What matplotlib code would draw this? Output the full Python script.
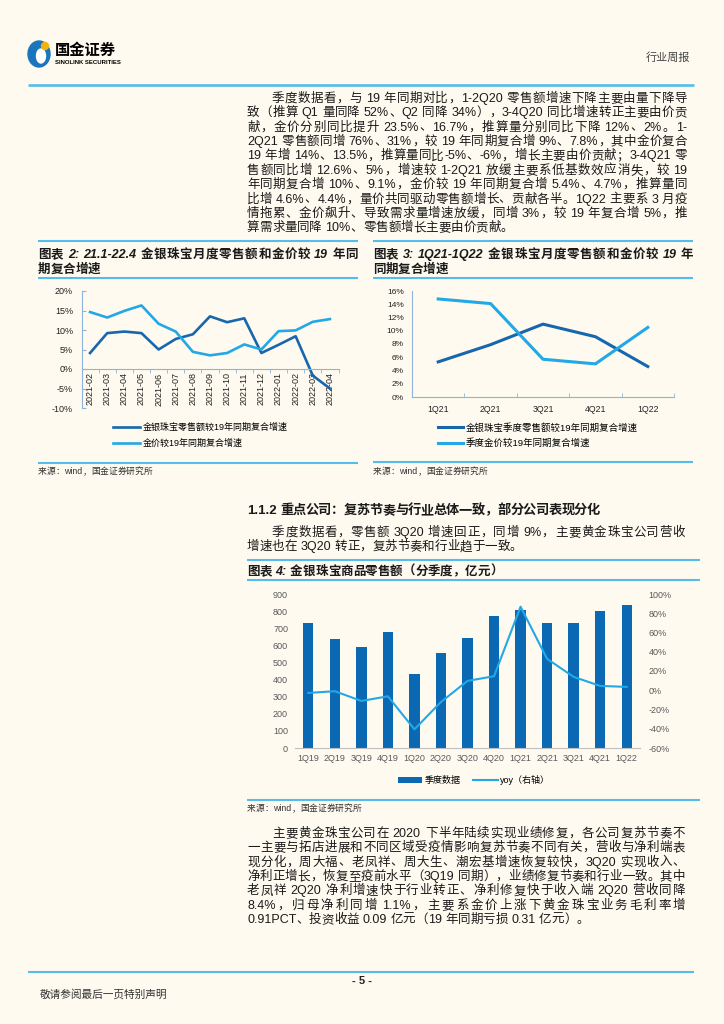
import re
import numpy as np
import matplotlib
matplotlib.use('Agg')
import matplotlib.pyplot as plt
from matplotlib.patches import Ellipse, Circle

plt.rcParams['font.family'] = ['Liberation Sans', 'Noto Sans CJK SC']
plt.rcParams['axes.unicode_minus'] = False

# ==== данные ==== #
months = ['2021-02', '2021-03', '2021-04', '2021-05', '2021-06', '2021-07', '2021-08',
          '2021-09', '2021-10', '2021-11', '2021-12', '2022-01', '2022-02', '2022-03', '2022-04']
retail_m = [4.1, 9.2, 9.6, 9.2, 5.0, 7.7, 8.9, 13.5, 12.0, 13.0, 4.1, 6.2, 8.4, -1.7, -5.0]
gold_m = [14.6, 13.2, 14.9, 16.3, 11.6, 9.6, 4.4, 3.5, 4.1, 6.3, 5.0, 9.7, 9.9, 12.1, 12.8]

quarters = ['1Q21', '2Q21', '3Q21', '4Q21', '1Q22']
retail_q = [5.3, 7.9, 11.0, 9.1, 4.6]
gold_q = [14.8, 14.1, 5.7, 5.0, 10.5]

q_labels = ['1Q19', '2Q19', '3Q19', '4Q19', '1Q20', '2Q20', '3Q20',
            '4Q20', '1Q21', '2Q21', '3Q21', '4Q21', '1Q22']
sales = [732, 635, 588, 676, 434, 557, 643, 771, 807, 732, 729, 803, 836]
yoy = [-2.8, -1.0, -11.1, -6.3, -40.6, -12.2, 9.7, 14.6, 86.8, 32.6, 13.9, 4.5, 3.5]

para1 = [
    '季度数据看，与 19 年同期对比，1-2Q20 零售额增速下降主要由量下降导',
    '致（推算 Q1 量同降 52%、Q2 同降 34%），3-4Q20 同比增速转正主要由价贡',
    '献，金价分别同比提升 23.5%、16.7%，推算量分别同比下降 12%、2%。1-',
    '2Q21 零售额同增 76%、31%，较 19 年同期复合增 9%、7.8%，其中金价复合',
    '19 年增 14%、13.5%，推算量同比-5%、-6%，增长主要由价贡献；3-4Q21 零',
    '售额同比增 12.6%、5%，增速较 1-2Q21 放缓主要系低基数效应消失，较 19',
    '年同期复合增 10%、9.1%，金价较 19 年同期复合增 5.4%、4.7%，推算量同',
    '比增 4.6%、4.4%，量价共同驱动零售额增长、贡献各半。1Q22 主要系 3 月疫',
    '情拖累、金价飙升、导致需求量增速放缓，同增 3%，较 19 年复合增 5%，推',
    '算需求量同降 10%、零售额增长主要由价贡献。',
]
para2 = [
    '季度数据看，零售额 3Q20 增速回正，同增 9%，主要黄金珠宝公司营收',
    '增速也在 3Q20 转正，复苏节奏和行业趋于一致。',
]
para3 = [
    '主要黄金珠宝公司在 2020 下半年陆续实现业绩修复，各公司复苏节奏不',
    '一主要与拓店进展和不同区域受疫情影响复苏节奏不同有关，营收与净利端表',
    '现分化，周大福、老凤祥、周大生、潮宏基增速恢复较快，3Q20 实现收入、',
    '净利正增长，恢复至疫前水平（3Q19 同期），业绩修复节奏和行业一致。其中',
    '老凤祥 2Q20 净利增速快于行业转正、净利修复快于收入端 2Q20 营收同降',
    '8.4%，归母净利同增 1.1%，主要系金价上涨下黄金珠宝业务毛利率增',
    '0.91PCT、投资收益 0.09 亿元（19 年同期亏损 0.31 亿元）。',
]

BG = '#FEFAEF'
RULE = '#55BDEB'
DARK = '#1767AE'
LIGHT = '#22A8E6'
BAR = '#0B68B3'
AXC = '#8FB3D9'
TXT = '#1a1a1a'
W, H = 724, 1024
PX = 100 / 72

fig = plt.figure(figsize=(7.24, 10.24), dpi=100, facecolor=BG)
pg = fig.add_axes([0, 0, 1, 1])
pg.set_xlim(0, W)
pg.set_ylim(H, 0)
pg.axis('off')
R = fig.canvas.get_renderer()


# строка текста с выравниванием по ширине
def put(s, x0, y, size, x1=None, **kw):
    kw.setdefault('color', TXT)
    em = size * PX
    base = y + 0.38 * em
    parts = re.findall(r'[\x21-\x7e]+| +|[^\x21-\x7e ]', s)
    toks = []
    gap = 0
    for p in parts:
        if p.startswith(' '):
            gap += 0.28 * em * len(p)
            continue
        t = pg.text(x0, base, p, fontsize=size, va='baseline', ha='left', **kw)
        w = t.get_window_extent(R).width if p.isascii() else em * len(p)
        toks.append((t, w, gap))
        gap = 0
    total = sum(w + g for _, w, g in toks)
    extra = 0
    if x1 is not None and len(toks) > 1:
        extra = (x1 - x0 - total) / (len(toks) - 1)
    x = x0
    for i, (t, w, g) in enumerate(toks):
        if i > 0:
            x += g + extra
        t.set_x(x)
        x += w


def rule(x0, x1, y, lw=1.5):
    pg.plot([x0, x1], [y, y], color=RULE, lw=lw, solid_capstyle='butt')


def paragraph(lines, y0, step, first_x=272, x0=247, x1=687, size=9):
    for i, s in enumerate(lines):
        last = i == len(lines) - 1
        put(s, first_x if i == 0 else x0, y0 + i * step, size, None if last else x1)


# ==== шапка ==== #
pg.add_patch(Ellipse((39, 54), 22, 26, color='#1B75BC'))
pg.add_patch(Ellipse((41, 56), 9, 14, color='white'))
pg.add_patch(Circle((45, 46), 3.5, color='#F3B30A'))
pg.text(55, 51, '国金证券', fontsize=11, fontweight='bold', va='center', color='black')
pg.text(55, 62.5, 'SINOLINK SECURITIES', fontsize=4.3, fontweight='bold', va='center', color='black')
pg.text(690, 58, '行业周报', fontsize=8, ha='right', va='center', color='#444444')
rule(28, 694, 85, lw=1.9)

paragraph(para1, 97, 14.4)

# ==== заголовки рисунков 2 и 3 ==== #
rule(38, 358, 241)
put('图表 2: 21.1-22.4 金银珠宝月度零售额和金价较 19 年同', 38, 253, 9, 358,
    fontweight='bold', fontstyle='italic')
put('期复合增速', 38, 268, 9, fontweight='bold', fontstyle='italic')
rule(38, 358, 278)

rule(373, 693, 241)
put('图表 3: 1Q21-1Q22 金银珠宝月度零售额和金价较 19 年', 373, 253, 9, 693,
    fontweight='bold', fontstyle='italic')
put('同期复合增速', 373, 268, 9, fontweight='bold', fontstyle='italic')
rule(373, 693, 278)

# ==== рисунок 2 ==== #
ax2 = fig.add_axes([81.5 / W, 1 - 408 / H, 257 / W, 117 / H])
ax2.set_facecolor('none')
xm = np.arange(len(months))
ax2.plot(xm, retail_m, color=DARK, lw=1.9, label='金银珠宝零售额较19年同期复合增速')
ax2.plot(xm, gold_m, color=LIGHT, lw=1.9, label='金价较19年同期复合增速')
ax2.set_xlim(-0.5, len(months) - 0.5)
ax2.set_ylim(-10, 20)
ax2.set_yticks(range(-10, 21, 5))
ax2.set_yticklabels([f'{v}%' for v in range(-10, 21, 5)])
ax2.spines['bottom'].set_position(('data', 0))
for s in ['top', 'right']:
    ax2.spines[s].set_visible(False)
for s in ['left', 'bottom']:
    ax2.spines[s].set_color(AXC)
ax2.set_xticks(xm)
ax2.set_xticklabels(months, rotation=90)
ax2.set_xticks(np.arange(-0.5, len(months)), minor=True)
ax2.tick_params(axis='x', which='major', length=0, pad=2.5, labelsize=6.5, labelcolor='#222')
ax2.tick_params(axis='x', which='minor', length=3, color=AXC, direction='out')
ax2.tick_params(axis='y', length=3, direction='in', color=AXC, pad=6, labelsize=6.5, labelcolor='#222')
ax2.legend(loc='upper left', bbox_to_anchor=(113 / W, 1 - 423 / H), bbox_transform=fig.transFigure,
           frameon=False, fontsize=6.5, handlelength=3.0, handletextpad=0.25,
           labelspacing=0.75, borderpad=0, borderaxespad=0)
rule(38, 358, 463)
put('来源：wind，国金证券研究所', 38, 471, 6.3, color='#333333')

# ==== рисунок 3 ==== #
ax3 = fig.add_axes([412 / W, 1 - 397 / H, 262 / W, 106 / H])
ax3.set_facecolor('none')
xq3 = np.arange(len(quarters))
ax3.plot(xq3, retail_q, color=DARK, lw=2.2, label='金银珠宝季度零售额较19年同期复合增速')
ax3.plot(xq3, gold_q, color=LIGHT, lw=2.2, label='季度金价较19年同期复合增速')
ax3.set_xlim(-0.5, len(quarters) - 0.5)
ax3.set_ylim(0, 16)
ax3.set_yticks(range(0, 17, 2))
ax3.set_yticklabels([f'{v}%' for v in range(0, 17, 2)])
for s in ['top', 'right']:
    ax3.spines[s].set_visible(False)
for s in ['left', 'bottom']:
    ax3.spines[s].set_color(AXC)
ax3.set_xticks(xq3)
ax3.set_xticklabels(quarters)
ax3.set_xticks(np.arange(-0.5, len(quarters)), minor=True)
ax3.tick_params(axis='x', which='major', length=0, pad=6, labelsize=6.3, labelcolor='#222')
ax3.tick_params(axis='x', which='minor', length=3, color=AXC, direction='in')
ax3.tick_params(axis='y', length=0, pad=6, labelsize=6.0, labelcolor='#222')
ax3.legend(loc='upper left', bbox_to_anchor=(438 / W, 1 - 423 / H), bbox_transform=fig.transFigure,
           frameon=False, fontsize=6.8, handlelength=2.7, handletextpad=0.25,
           labelspacing=0.6, borderpad=0, borderaxespad=0)
rule(373, 693, 462)
put('来源：wind，国金证券研究所', 373, 471, 6.3, color='#333333')

# ==== раздел 1.1.2 ==== #
put('1.1.2 重点公司：复苏节奏与行业总体一致，部分公司表现分化', 247, 509, 9.5, 600, fontweight='bold')
paragraph(para2, 531, 14.4, x1=685)

rule(247, 700, 560)
put('图表 4: 金银珠宝商品零售额（分季度，亿元）', 247, 570, 9, fontweight='bold', fontstyle='italic')
rule(247, 700, 580)

# ==== рисунок 4 ==== #
ax4 = fig.add_axes([295 / W, 1 - 748 / H, 345 / W, 154 / H])
ax4.set_facecolor('none')
xq = np.arange(len(q_labels))
bars = ax4.bar(xq, sales, width=0.39, color=BAR, label='季度数据')
ax4.set_xlim(-0.5, len(q_labels) - 0.5)
ax4.set_ylim(0, 900)
ax4.set_yticks(range(0, 901, 100))
ax4.set_xticks(xq)
ax4.set_xticklabels(q_labels)
for s in ['top', 'right', 'left']:
    ax4.spines[s].set_visible(False)
ax4.spines['bottom'].set_color('#BFBFBF')
ax4.tick_params(axis='x', length=0, pad=4.5, labelsize=6.5, labelcolor='#595959')
ax4.tick_params(axis='y', length=0, pad=5, labelsize=6.5, labelcolor='#595959')

axr = ax4.twinx()
ln, = axr.plot(xq, yoy, color=LIGHT, lw=1.5, label='yoy（右轴）')
axr.set_ylim(-60, 100)
axr.set_yticks(range(-60, 101, 20))
axr.set_yticklabels([f'{v}%' for v in range(-60, 101, 20)])
for s in ['top', 'right', 'left', 'bottom']:
    axr.spines[s].set_visible(False)
axr.tick_params(axis='y', length=0, pad=6, labelsize=6.5, labelcolor='#595959')

ax4.legend([bars, ln], ['季度数据', 'yoy（右轴）'], loc='center left',
           bbox_to_anchor=(398 / W, 1 - 780 / H), bbox_transform=fig.transFigure,
           frameon=False, fontsize=6.5, ncol=2, handlelength=2.7, handletextpad=0.25,
           columnspacing=1.4, borderpad=0, borderaxespad=0)
rule(247, 700, 800)
put('来源：wind，国金证券研究所', 247, 808, 6.3, color='#333333')

paragraph(para3, 832, 14.4, x1=685)

# ==== подвал ==== #
rule(28, 694, 972)
pg.text(362, 981, '- 5 -', fontsize=8, fontweight='bold', ha='center', va='center', color='#222')
pg.text(40, 994, '敬请参阅最后一页特别声明', fontsize=7.7, va='center', color='#333333')

fig.savefig('out.png', dpi=100, facecolor=BG)
